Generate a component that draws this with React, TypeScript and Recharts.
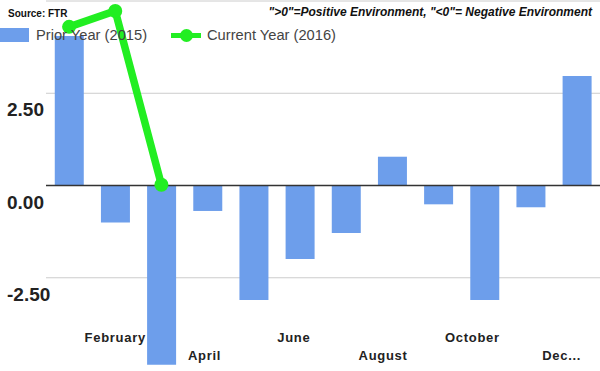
import React from 'react'
import {
  ComposedChart,
  Bar,
  Line,
  XAxis,
  YAxis,
  CartesianGrid,
  ReferenceLine,
} from 'recharts'

const months = [
  'January', 'February', 'March', 'April', 'May', 'June',
  'July', 'August', 'September', 'October', 'November', 'December',
]
const priorYear = [4.05, -1.0, -4.86, -0.69, -3.1, -1.99, -1.29, 0.78, -0.51, -3.1, -0.59, 2.97]
const currentYear = [4.3, 4.73, 0.02]
const xLabels: Record<string, string> = {
  February: 'February',
  April: 'April',
  June: 'June',
  August: 'August',
  October: 'October',
  December: 'Dec...',
}
const yTicks = [-5, -2.5, 0, 2.5, 5]
const yLabelTicks = [-2.5, 0, 2.5]

const data = months.map((m, i) => ({
  month: m,
  prior: priorYear[i],
  current: i < currentYear.length ? currentYear[i] : null,
}))

const BLUE = '#6d9eeb'
const GREEN = '#22ee22'
const FONT = '"Liberation Sans", Arial, sans-serif'

const YTick = ({ y, payload }: any) => {
  if (!yLabelTicks.includes(payload.value)) return null
  return (
    <text x={7} y={y + 23} fontSize={19} fontWeight="bold" fill="#222" fontFamily={FONT}>
      {payload.value.toFixed(2)}
    </text>
  )
}

// labels sit a little left of the band centre, more so towards the right
const XTick = ({ x, y, payload, index }: any) => {
  const label = xLabels[payload.value]
  if (!label) return null
  const row = Math.floor(index / 2) % 2
  return (
    <text
      x={x - (x - 115) * 0.033}
      y={y - (row === 0 ? 36 : 18)}
      textAnchor="middle"
      fontSize={13}
      fontWeight="bold"
      letterSpacing={0.7}
      fill="#222"
      fontFamily={FONT}
    >
      {label}
    </text>
  )
}

const ChartLegend = () => (
  <div style={{ position: 'absolute', left: 0, top: 26, height: 20, fontFamily: FONT, fontSize: 14.7, color: '#444' }}>
    <div style={{ position: 'absolute', left: 0, top: 2, width: 29, height: 14, background: BLUE }} />
    <span style={{ position: 'absolute', left: 36, top: 1, whiteSpace: 'nowrap' }}>Prior Year (2015)</span>
    <div style={{ position: 'absolute', left: 171, top: 7, width: 30, height: 5, background: GREEN }} />
    <div style={{ position: 'absolute', left: 180, top: 3, width: 13, height: 13, borderRadius: 7, background: GREEN }} />
    <span style={{ position: 'absolute', left: 207, top: 1, whiteSpace: 'nowrap' }}>Current Year (2016)</span>
  </div>
)

export default function App() {
  return (
    <div style={{ position: 'absolute', left: 0, top: 0, width: 600, height: 371, background: '#fff' }}>
      <ComposedChart
        width={600}
        height={371}
        data={data}
        margin={{ top: 1, right: 0, left: 0, bottom: 0 }}
        barCategoryGap="19%"
      >
        <CartesianGrid vertical={false} stroke="#cccccc" horizontalValues={yTicks} />
        <XAxis
          dataKey="month"
          axisLine={false}
          tickLine={false}
          interval={0}
          height={1}
          tick={<XTick />}
        />
        <YAxis
          domain={[-5, 5]}
          ticks={yTicks}
          axisLine={false}
          tickLine={false}
          width={46}
          tick={<YTick />}
        />
        <ReferenceLine y={0} stroke="#333" strokeWidth={1.5} />
        <Bar dataKey="prior" fill={BLUE} isAnimationActive={false} />
        <Line
          dataKey="current"
          stroke={GREEN}
          strokeWidth={7.5}
          dot={{ r: 7, fill: GREEN, stroke: GREEN, strokeWidth: 0 }}
          activeDot={false}
          connectNulls={false}
          isAnimationActive={false}
        />
      </ComposedChart>
      <ChartLegend />
      <div
        style={{
          position: 'absolute',
          left: 8,
          top: 8,
          fontFamily: FONT,
          fontSize: 10,
          fontWeight: 'bold',
          color: '#111',
        }}
      >
        Source: FTR
      </div>
      <div
        style={{
          position: 'absolute',
          right: 8,
          top: 5,
          fontFamily: FONT,
          fontSize: 12,
          fontWeight: 'bold',
          fontStyle: 'italic',
          color: '#111',
          whiteSpace: 'nowrap',
        }}
      >
        "&gt;0"=Positive Environment, "&lt;0"= Negative Environment
      </div>
    </div>
  )
}
